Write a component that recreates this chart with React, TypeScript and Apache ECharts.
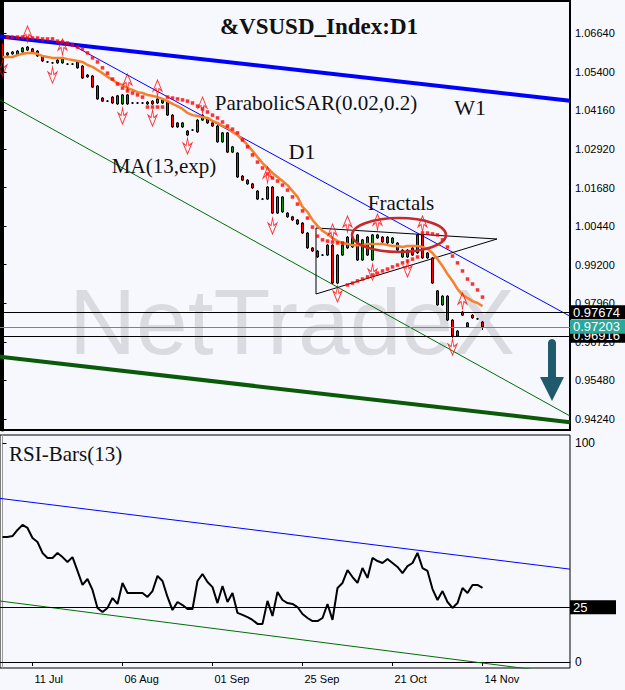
import { useEffect, useRef } from 'react';
import * as echarts from 'echarts';

// ---------- data ----------
const candleOpen = [
  1.0633, 1.0601, 1.0598, 1.0594, 1.0604, 1.0610, 1.0614, 1.0607, 1.0591, 1.0572,
  1.0569, 1.0569, 1.0569, 1.0565, 1.0565, 1.0572, 1.0559, 1.0530, 1.0527, 1.0495,
  1.0456, 1.0446, 1.0459, 1.0437, 1.0437, 1.0466, 1.0440, 1.0440, 1.0440, 1.0443,
  1.0446, 1.0440, 1.0440, 1.0443, 1.0401, 1.0376, 1.0363, 1.0350, 1.0353, 1.0347,
  1.0385, 1.0392, 1.0376, 1.0366, 1.0315, 1.0344, 1.0282, 1.0279, 1.0205, 1.0192,
  1.0180, 1.0157, 1.0131, 1.0131, 1.0170, 1.0086, 1.0090, 1.0086, 1.0074, 1.0064,
  1.0054, 1.0022, 0.9974, 0.9964, 0.9951, 0.9951, 0.9983, 0.9861, 0.9951, 0.9974,
  0.9977, 1.0016, 0.9935, 1.0009, 0.9935, 1.0016, 1.0009, 1.0009, 0.9990, 0.9990,
  0.9945, 0.9945, 0.9974, 0.9958, 1.0016, 0.9958, 0.9942, 0.9836, 0.9791, 0.9819,
  0.9742, 0.9691, 0.9768, 0.9733, 0.9758, 0.9746, 0.9736,
];
const candleClose = [
  1.0588, 1.0594, 1.0604, 1.0607, 1.0617, 1.0620, 1.0604, 1.0591, 1.0575, 1.0572,
  1.0569, 1.0578, 1.0581, 1.0565, 1.0565, 1.0553, 1.0520, 1.0524, 1.0491, 1.0453,
  1.0446, 1.0446, 1.0440, 1.0463, 1.0466, 1.0437, 1.0440, 1.0440, 1.0440, 1.0437,
  1.0437, 1.0453, 1.0450, 1.0401, 1.0363, 1.0363, 1.0376, 1.0337, 1.0353, 1.0385,
  1.0401, 1.0376, 1.0366, 1.0315, 1.0344, 1.0282, 1.0299, 1.0202, 1.0192, 1.0180,
  1.0167, 1.0131, 1.0131, 1.0170, 1.0086, 1.0138, 1.0138, 1.0074, 1.0064, 1.0051,
  1.0022, 0.9974, 0.9964, 0.9945, 0.9951, 0.9983, 0.9861, 0.9951, 0.9983, 1.0009,
  1.0009, 0.9935, 1.0000, 0.9951, 1.0016, 1.0006, 0.9993, 0.9990, 1.0006, 0.9967,
  0.9967, 0.9967, 0.9951, 1.0016, 0.9942, 0.9942, 0.9861, 0.9791, 0.9819, 0.9742,
  0.9691, 0.9707, 0.9758, 0.9720, 0.9749, 0.9746, 0.97203,
];
const candleHigh = [
  1.0636, 1.0604, 1.0607, 1.0610, 1.0620, 1.0623, 1.0617, 1.0610, 1.0594, 1.0575,
  1.0572, 1.0581, 1.0584, 1.0568, 1.0568, 1.0575, 1.0562, 1.0533, 1.0530, 1.0498,
  1.0459, 1.0449, 1.0462, 1.0466, 1.0469, 1.0469, 1.0443, 1.0443, 1.0443, 1.0446,
  1.0449, 1.0456, 1.0453, 1.0446, 1.0404, 1.0379, 1.0379, 1.0353, 1.0356, 1.0388,
  1.0404, 1.0395, 1.0379, 1.0369, 1.0347, 1.0347, 1.0302, 1.0282, 1.0208, 1.0195,
  1.0183, 1.0160, 1.0134, 1.0173, 1.0173, 1.0141, 1.0141, 1.0089, 1.0077, 1.0067,
  1.0057, 1.0025, 0.9977, 0.9967, 0.9954, 0.9986, 0.9986, 0.9954, 0.9986, 1.0012,
  1.0012, 1.0019, 1.0003, 1.0012, 1.0019, 1.0019, 1.0012, 1.0012, 1.0009, 0.9993,
  0.9970, 0.9970, 0.9977, 1.0019, 1.0019, 0.9961, 0.9945, 0.9839, 0.9822, 0.9822,
  0.9745, 0.9710, 0.9771, 0.9736, 0.9761, 0.9749, 0.9739,
];
const candleLow = [
  1.0585, 1.0591, 1.0595, 1.0591, 1.0601, 1.0607, 1.0601, 1.0588, 1.0572, 1.0569,
  1.0566, 1.0566, 1.0566, 1.0562, 1.0562, 1.0550, 1.0517, 1.0521, 1.0488, 1.0450,
  1.0443, 1.0443, 1.0437, 1.0434, 1.0434, 1.0434, 1.0437, 1.0437, 1.0437, 1.0434,
  1.0434, 1.0437, 1.0437, 1.0398, 1.0360, 1.0360, 1.0360, 1.0334, 1.0350, 1.0344,
  1.0382, 1.0373, 1.0363, 1.0312, 1.0312, 1.0279, 1.0279, 1.0199, 1.0189, 1.0177,
  1.0164, 1.0128, 1.0128, 1.0128, 1.0083, 1.0083, 1.0087, 1.0071, 1.0061, 1.0048,
  1.0019, 0.9971, 0.9961, 0.9942, 0.9948, 0.9948, 0.9858, 0.9858, 0.9948, 0.9971,
  0.9974, 0.9932, 0.9932, 0.9948, 0.9932, 1.0003, 0.9990, 0.9987, 0.9987, 0.9964,
  0.9942, 0.9942, 0.9948, 0.9955, 0.9939, 0.9939, 0.9858, 0.9788, 0.9788, 0.9739,
  0.9685, 0.9688, 0.9755, 0.9717, 0.9746, 0.9743, 0.9710,
];
const emaValues = [
  1.0588, 1.0588, 1.0588, 1.0594, 1.0598, 1.0601, 1.0601, 1.0598, 1.0591, 1.0588,
  1.0585, 1.0585, 1.0585, 1.0581, 1.0578, 1.0575, 1.0572, 1.0562, 1.0556, 1.0546,
  1.0536, 1.0524, 1.0514, 1.0504, 1.0498, 1.0488, 1.0482, 1.0475, 1.0472, 1.0466,
  1.0463, 1.0459, 1.0453, 1.0446, 1.0437, 1.0430, 1.0421, 1.0408, 1.0401, 1.0398,
  1.0395, 1.0392, 1.0382, 1.0376, 1.0366, 1.0360, 1.0347, 1.0337, 1.0321, 1.0305,
  1.0286, 1.0266, 1.0247, 1.0231, 1.0215, 1.0202, 1.0189, 1.0176, 1.0157, 1.0138,
  1.0106, 1.0090, 1.0064, 1.0045, 1.0029, 1.0019, 1.0006, 0.9996, 0.9990, 0.9987,
  0.9983, 0.9983, 0.9983, 0.9987, 0.9987, 0.9987, 0.9987, 0.9983, 0.9980, 0.9980,
  0.9977, 0.9980, 0.9980, 0.9980, 0.9977, 0.9971, 0.9958, 0.9938, 0.9916, 0.9890,
  0.9868, 0.9842, 0.9823, 0.9813, 0.9803, 0.9797, 0.9787,
];
const sarValues = [
  null, 1.0652, 1.0652, 1.0652, 1.0652, 1.0649, 1.0649, 1.0649, 1.0646, 1.0646,
  1.0646, 1.0639, 1.0636, 1.0633, 1.0626, 1.0620, 1.0614, 1.0601, 1.0585, 1.0572,
  1.0553, 1.0536, 1.0517, 1.0501, 1.0488, 1.0479, 1.0472, 1.0466, 1.0459, 1.0427,
  1.0427, 1.0427, 1.0427, 1.0459, 1.0456, 1.0453, 1.0450, 1.0446, 1.0440, 1.0430,
  1.0421, 1.0411, 1.0401, 1.0392, 1.0379, 1.0366, 1.0356, 1.0344, 1.0321, 1.0299,
  1.0273, 1.0250, 1.0231, 1.0212, 1.0199, 1.0189, 1.0176, 1.0160, 1.0138, 1.0115,
  1.0093, 1.0070, 1.0041, 1.0012, 1.0000, 0.9996, 0.9993, 0.9990, 0.9990, 0.9855,
  0.9861, 0.9868, 0.9874, 0.9881, 0.9887, 0.9893, 0.9900, 0.9906, 0.9913, 0.9919,
  0.9926, 0.9932, 0.9938, 0.9945, 1.0022, 1.0022, 1.0019, 1.0016, 1.0000, 0.9977,
  0.9948, 0.9926, 0.9900, 0.9874, 0.9858, 0.9839, 0.9816,
];
const fractalUp = [
  [5, 1.06618], [12, 1.0620], [25, 1.05075], [31, 1.04882], [40, 1.04335], [53, 1.02085],
  [66, 1.00252], [69, 1.0051], [75, 1.00574], [84, 1.0051], [92, 0.98034],
];
const fractalDown = [
  [0, 1.05525], [10, 1.05299], [24, 1.03982], [30, 1.03917], [37, 1.03017], [54, 1.00445],
  [67, 0.98259], [74, 0.98966], [81, 0.99063], [90, 0.96555],
];
const rsiValues = [
  57.1, 57.1, 57.5, 60.3, 62.6, 61.2, 56.6, 54.8, 49.8, 47.5,
  47.5, 49.8, 47.9, 45.7, 47.9, 41.6, 35.2, 37.9, 32.9, 24.7,
  22.8, 24.7, 29.2, 26.5, 36.1, 31.5, 31.5, 31.5, 31.5, 29.7,
  32.4, 39.3, 37.0, 29.7, 23.7, 27.4, 26.0, 24.2, 24.2, 37.0,
  40.2, 36.5, 34.2, 26.9, 34.7, 27.4, 31.5, 22.4, 21.5, 20.5,
  19.2, 17.4, 17.4, 27.9, 21.0, 32.0, 28.3, 26.9, 26.5, 25.1,
  21.9, 20.1, 18.7, 18.7, 20.1, 26.5, 19.2, 33.8, 36.1, 42.0,
  38.8, 36.1, 42.9, 38.4, 47.5, 46.1, 45.2, 47.0, 45.2, 43.4,
  40.6, 43.8, 45.2, 49.8, 42.9, 41.6, 33.3, 28.3, 32.4, 27.4,
  24.7, 26.9, 33.8, 31.5, 35.2, 35.2, 33.8,
];
// trend lines: [bar index, value]
const w1Upper = [[-0.5, 1.06538], [113.5, 1.04474]];
const d1Upper = [[13.1, 1.06341], [113.5, 0.97545]];
const d1Lower = [[-0.5, 1.04496], [113.5, 0.94337]];
const w1Lower = [[-0.5, 0.96243], [113.5, 0.94137]];
const triangle = [[62.7, 1.00381], [98.9, 1.00027], [62.7, 0.98259], [62.7, 1.00381]];
const rsiUpper = [[-0.5, 74.7], [113.5, 42.4]];
const rsiLower = [[-0.5, 27.85], [113.5, -5.6]];
const levelValues = [0.97674, 0.96916, 0.97203];
const priceTicks = [0.9424, 0.9548, 0.9672, 0.9796, 0.992, 1.0044, 1.0168, 1.0292, 1.0416, 1.054, 1.0664];
const rsiTicks = [0, 100];
const rsiLevel = 25;
const xTickLabels = ['11 Jul', '06 Aug', '01 Sep', '25 Sep', '21 Oct', '14 Nov'];
const ellipseCenter = [79.3, 1.00156];
const arrowTop = [109.9, 0.9678];
const arrowTip = [109.9, 0.94819];

const N_SLOTS = 114;
const MONTHS = ['Jan', 'Feb', 'Mar', 'Apr', 'May', 'Jun', 'Jul', 'Aug', 'Sep', 'Oct', 'Nov', 'Dec'];
function buildCategories(): string[] {
  const out: string[] = [];
  const d = new Date(Date.UTC(2014, 6, 3));
  while (out.length < N_SLOTS) {
    const wd = d.getUTCDay();
    if (wd !== 0 && wd !== 6) {
      out.push(String(d.getUTCDate()).padStart(2, '0') + ' ' + MONTHS[d.getUTCMonth()]);
    }
    d.setUTCDate(d.getUTCDate() + 1);
  }
  return out;
}

const SANS = '"Liberation Sans", Arial, sans-serif';
const SERIF = '"Liberation Serif", "Times New Roman", serif';
const UP_PATH = 'path://M5 0 L10 11 L6.5 8.5 L5 16 L3.5 8.5 L0 11 Z';
const DOWN_PATH = 'path://M5 16 L10 5 L6.5 7.5 L5 0 L3.5 7.5 L0 5 Z';

function badge(text: string, bg: string, w: number) {
  return {
    show: true,
    position: 'end',
    formatter: text,
    color: '#fff',
    backgroundColor: bg,
    padding: [1, 3, 0, 3],
    fontSize: 13,
    fontFamily: SANS,
    distance: 0,
    width: w,
    align: 'left',
  };
}

function textEl(text: string, x: number, y: number, size: number, opts: any = {}) {
  const align = opts.align || 'center';
  return {
    type: 'text',
    x,
    y,
    z: 50,
    silent: true,
    style: {
      text,
      font: `${opts.bold ? 'bold ' : ''}${size}px ${opts.family || SERIF}`,
      fill: opts.fill || '#111',
      align,
      textAlign: align,
      verticalAlign: 'middle',
      textVerticalAlign: 'middle',
    },
  };
}

export default function App() {
  const ref = useRef<HTMLDivElement>(null);
  useEffect(() => {
    if (!ref.current) return;
    const chart = echarts.init(ref.current, null, { renderer: 'svg' });
    const categories = buildCategories();
    const candleData = candleOpen.map((o, i) => [o, candleClose[i], candleLow[i], candleHigh[i]]);
    const showTick = (_i: number, v: string) => xTickLabels.includes(v);
    const levelColors = ['#000000', '#000000', '#2aa89c'];
    const levelLabels = levelValues.map((v, i) => ({
      yAxis: v,
      lineStyle: { color: levelColors[i], width: 1, type: 'solid' },
      label: badge(v.toFixed(5), levelColors[i], 49),
    }));

    const option: any = {
      animation: false,
      backgroundColor: 'transparent',
      grid: [
        { left: 0, top: 1, width: 570, height: 429, show: true, borderColor: '#000', borderWidth: 2, backgroundColor: 'transparent' },
        { left: 0, top: 435, width: 570, height: 233, show: true, borderColor: '#000', borderWidth: 1, backgroundColor: 'transparent' },
      ],
      xAxis: [
        { type: 'category', gridIndex: 0, data: categories, boundaryGap: true, show: false },
        { type: 'value', gridIndex: 0, min: -0.5, max: 113.5, show: false },
        {
          type: 'category', gridIndex: 1, data: categories, boundaryGap: true,
          axisLine: { show: true, lineStyle: { color: '#000', width: 1 } },
          axisTick: { show: true, alignWithLabel: true, interval: showTick, length: 4, lineStyle: { color: '#000' } },
          axisLabel: { interval: showTick, align: 'left', color: '#000', fontSize: 11, fontFamily: SANS, margin: 5, padding: [0, 0, 0, 2] },
          splitLine: { show: false },
        },
        { type: 'value', gridIndex: 1, min: -0.5, max: 113.5, show: false },
      ],
      yAxis: [
        {
          type: 'value', gridIndex: 0, position: 'right', min: 0.93887, max: 1.07679, scale: true,
          axisLine: { show: true, lineStyle: { color: '#000', width: 3 } },
          axisTick: { show: true, customValues: priceTicks, length: 4, lineStyle: { color: '#000' } },
          axisLabel: { customValues: priceTicks, formatter: (v: number) => v.toFixed(5), color: '#000', fontSize: 11, fontFamily: SANS, margin: 5 },
          splitLine: { show: false },
        },
        {
          type: 'value', gridIndex: 1, position: 'right', min: -2.74, max: 103.65,
          axisLine: { show: true, lineStyle: { color: '#9a9a9a', width: 1 } },
          axisTick: { show: true, customValues: rsiTicks, length: 4, lineStyle: { color: '#000' } },
          axisLabel: { customValues: rsiTicks, color: '#000', fontSize: 12, fontFamily: SANS, margin: 5 },
          splitLine: { show: false },
        },
      ],
      series: [
        {
          type: 'line', xAxisIndex: 1, yAxisIndex: 0, data: w1Upper, symbol: 'none', silent: true, z: 1,
          lineStyle: { color: '#0000ff', width: 4 },
          markLine: { silent: true, symbol: ['none', 'none'], animation: false, precision: 5, data: levelLabels, z: 10 },
        },
        { type: 'line', xAxisIndex: 1, yAxisIndex: 0, data: d1Upper, symbol: 'none', silent: true, z: 1, lineStyle: { color: '#0000ff', width: 1 } },
        { type: 'line', xAxisIndex: 1, yAxisIndex: 0, data: d1Lower, symbol: 'none', silent: true, z: 1, lineStyle: { color: '#006e00', width: 1 } },
        { type: 'line', xAxisIndex: 1, yAxisIndex: 0, data: w1Lower, symbol: 'none', silent: true, z: 1, lineStyle: { color: '#0a5a0a', width: 4 } },
        { type: 'line', xAxisIndex: 1, yAxisIndex: 0, data: triangle, symbol: 'none', silent: true, z: 1, lineStyle: { color: '#000', width: 1 } },
        {
          type: 'candlestick', xAxisIndex: 0, yAxisIndex: 0, data: candleData, barWidth: 3, z: 3,
          itemStyle: { color: '#0a8f0a', color0: '#ff0000', borderColor: '#000', borderColor0: '#000', borderColorDoji: '#000', borderWidth: 1 },
        },
        {
          type: 'line', xAxisIndex: 0, yAxisIndex: 0, data: emaValues, symbol: 'none', silent: true, z: 4,
          lineStyle: { color: '#f7812b', width: 2.5 },
        },
        {
          type: 'scatter', xAxisIndex: 0, yAxisIndex: 0, data: sarValues, symbol: 'rect', symbolSize: 3.5, silent: true, z: 5,
          itemStyle: { color: '#ff0000' },
        },
        {
          type: 'scatter', xAxisIndex: 0, yAxisIndex: 0, data: fractalUp, symbol: UP_PATH, symbolSize: [9, 16], silent: true, z: 6,
          itemStyle: { color: 'rgba(255,255,255,0)', borderColor: '#ff0000', borderWidth: 1 },
        },
        {
          type: 'scatter', xAxisIndex: 0, yAxisIndex: 0, data: fractalDown, symbol: DOWN_PATH, symbolSize: [9, 16], silent: true, z: 6,
          itemStyle: { color: 'rgba(255,255,255,0)', borderColor: '#ff0000', borderWidth: 1 },
        },
        {
          type: 'line', xAxisIndex: 2, yAxisIndex: 1, data: rsiValues, symbol: 'none', silent: true, z: 4,
          lineStyle: { color: '#000', width: 2 },
          markLine: {
            silent: true, symbol: ['none', 'none'], animation: false, precision: 2,
            data: [{ yAxis: rsiLevel, lineStyle: { color: '#000', width: 1, type: 'solid' }, label: badge(String(rsiLevel), '#000', 40) }],
          },
        },
        { type: 'line', xAxisIndex: 3, yAxisIndex: 1, data: rsiUpper, symbol: 'none', silent: true, z: 1, lineStyle: { color: '#0000ff', width: 1 } },
        { type: 'line', xAxisIndex: 3, yAxisIndex: 1, data: rsiLower, symbol: 'none', silent: true, z: 1, lineStyle: { color: '#006e00', width: 1 } },
      ],
    };
    chart.setOption(option);

    const ec = chart.convertToPixel({ seriesIndex: 0 }, ellipseCenter) as number[];
    const at = chart.convertToPixel({ seriesIndex: 0 }, arrowTop) as number[];
    const ab = chart.convertToPixel({ seriesIndex: 0 }, arrowTip) as number[];
    const cx = at[0];
    const top = at[1];
    const tip = ab[1];
    const headH = 24;
    const arrowColor = '#1f5b6c';

    chart.setOption({
      graphic: [
        {
          type: 'text', x: 292, y: 322, z: -5, silent: true,
          style: { text: 'NetTradeX', font: `93px ${SANS}`, fill: '#dadbe0', align: 'center', textAlign: 'center', verticalAlign: 'middle', textVerticalAlign: 'middle' },
        },
        textEl('&VSUSD_Index:D1', 319, 26.5, 23, { bold: true }),
        textEl('ParabolicSAR(0.02,0.2)', 316, 103, 21),
        textEl('W1', 470, 107, 22),
        textEl('D1', 302, 151, 22),
        textEl('MA(13,exp)', 164, 166, 21),
        textEl('Fractals', 401, 203, 21),
        textEl('RSI-Bars(13)', 9, 454, 21, { align: 'left' }),
        {
          type: 'ellipse', z: 40, silent: true,
          shape: { cx: ec[0], cy: ec[1], rx: 47, ry: 17 },
          style: { fill: 'none', stroke: '#c42a2c', lineWidth: 2.5 },
        },
        {
          type: 'polygon', z: 40, silent: true,
          shape: {
            points: [
              [cx - 4, top + 3], [cx + 4, top + 3], [cx + 4, tip - headH], [cx + 12, tip - headH],
              [cx, tip], [cx - 12, tip - headH], [cx - 4, tip - headH],
            ],
          },
          style: { fill: arrowColor },
        },
        {
          type: 'circle', z: 40, silent: true,
          shape: { cx, cy: top + 3, r: 4 },
          style: { fill: arrowColor },
        },
      ],
    });

    return () => chart.dispose();
  }, []);

  return (
    <div
      ref={ref}
      style={{ position: 'absolute', left: 0, top: 0, width: 625, height: 690, background: '#F7F8FD' }}
    />
  );
}
